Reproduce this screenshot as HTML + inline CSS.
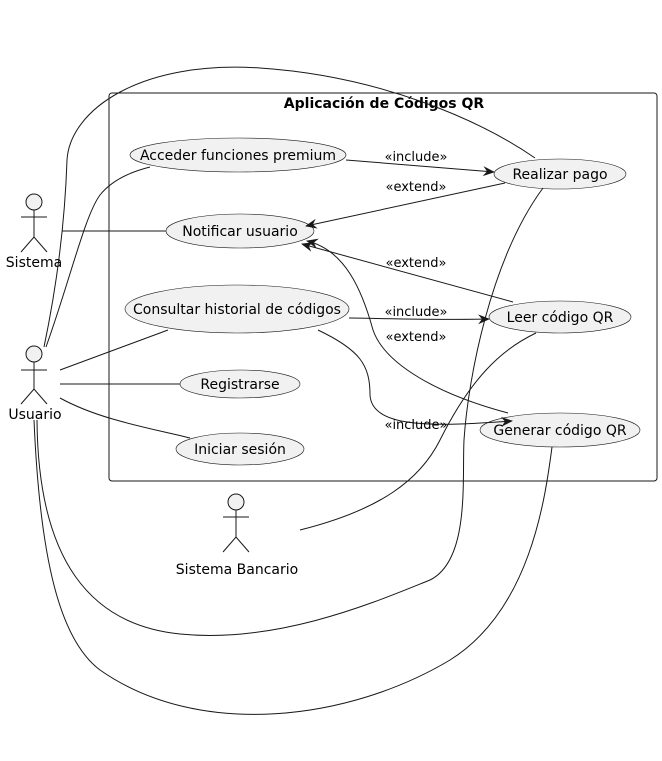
<!DOCTYPE html>
<html><head><meta charset="utf-8"><style>body{margin:0;background:#fff}svg{display:block}</style></head>
<body>
<svg width="662" height="761" viewBox="0 0 662 761" xmlns="http://www.w3.org/2000/svg" font-family="DejaVu Sans, Liberation Sans, sans-serif">
<defs>
<marker id="a" viewBox="0 0 12 10" refX="11" refY="5" markerWidth="12" markerHeight="10" markerUnits="userSpaceOnUse" orient="auto">
<path d="M0,0 L12,5 L0,10 L4,5 Z" fill="#181818"/>
</marker>
</defs>
<rect x="109" y="93" width="548" height="388" rx="3" fill="none" stroke="#181818" stroke-width="1"/>
<text x="384" y="108" font-size="14" font-weight="bold" text-anchor="middle">Aplicación de Códigos QR</text>

<g fill="#f1f1f1" stroke="#181818" stroke-width="0.6">
<ellipse cx="238" cy="155" rx="108" ry="17"/>
<ellipse cx="560" cy="174" rx="66" ry="15"/>
<ellipse cx="240" cy="231" rx="74" ry="17"/>
<ellipse cx="237" cy="309" rx="112" ry="24"/>
<ellipse cx="560" cy="317" rx="71" ry="16"/>
<ellipse cx="240" cy="384" rx="60" ry="14"/>
<ellipse cx="240" cy="449" rx="64" ry="16"/>
<ellipse cx="560" cy="430" rx="80" ry="17"/>
</g>
<g font-size="14" text-anchor="middle" fill="#000">
<text x="238" y="160">Acceder funciones premium</text>
<text x="560" y="179">Realizar pago</text>
<text x="240" y="236">Notificar usuario</text>
<text x="237" y="314">Consultar historial de códigos</text>
<text x="560" y="322">Leer código QR</text>
<text x="240" y="389">Registrarse</text>
<text x="240" y="454">Iniciar sesión</text>
<text x="560" y="435">Generar código QR</text>
</g>

<g fill="#f1f1f1" stroke="#181818" stroke-width="1">
<circle cx="34" cy="202" r="8"/>
<path d="M34,210 V237 M21,217 H47 M21,252 L34,237 L47,252" fill="none"/>
<circle cx="34" cy="354" r="8"/>
<path d="M34,362 V389 M21,370 H47 M21,404 L34,389 L47,404" fill="none"/>
<circle cx="236" cy="502" r="8"/>
<path d="M236,510 V537 M223,517 H249 M223,552 L236,537 L249,552" fill="none"/>
</g>
<g font-size="14" text-anchor="middle">
<text x="34" y="267">Sistema</text>
<text x="35" y="419">Usuario</text>
<text x="237" y="574">Sistema Bancario</text>
</g>

<g fill="none" stroke="#181818" stroke-width="1">
<path d="M62,231 L166,231"/>
<path d="M44,347 C 58,280 65,220 67,160 C 70,110 140,60 260,68 C 380,76 480,120 535,158"/>
<path d="M46,347 C 70,280 85,215 100,195 C 112,180 130,172 150,167"/>
<path d="M60,370 L168,330"/>
<path d="M60,384 L180,384"/>
<path d="M60,398 C 100,420 150,428 190,438"/>
<path d="M37,420 C 38,560 90,625 180,634 C 280,644 380,600 430,580 C 470,560 462,480 464,440 C 468,380 490,260 543,188"/>
<path d="M34,420 C 40,560 60,640 100,670 C 200,740 350,720 450,660 C 530,610 545,500 552,447"/>
<path d="M300,530 C 380,510 420,480 440,440 C 470,380 500,350 536,333"/>
<path d="M346,160 L494,172" marker-end="url(#a)"/>
<path d="M505,183 L306,226" marker-end="url(#a)"/>
<path d="M513,302 L302,244" marker-end="url(#a)"/>
<path d="M508,413 C 440,395 385,365 373,330 C 362,290 345,250 307,241" marker-end="url(#a)"/>
<path d="M349,318 C 400,319 450,320 489,319" marker-end="url(#a)"/>
<path d="M318,330 C 360,350 370,365 370,395 C 372,430 440,426 512,421" marker-end="url(#a)"/>
</g>
<g font-size="13" text-anchor="middle">
<text x="416" y="161">«include»</text>
<text x="416" y="191">«extend»</text>
<text x="416" y="267">«extend»</text>
<text x="416" y="316">«include»</text>
<text x="416" y="341">«extend»</text>
<text x="416" y="429">«include»</text>
</g>
</svg>
</body></html>
